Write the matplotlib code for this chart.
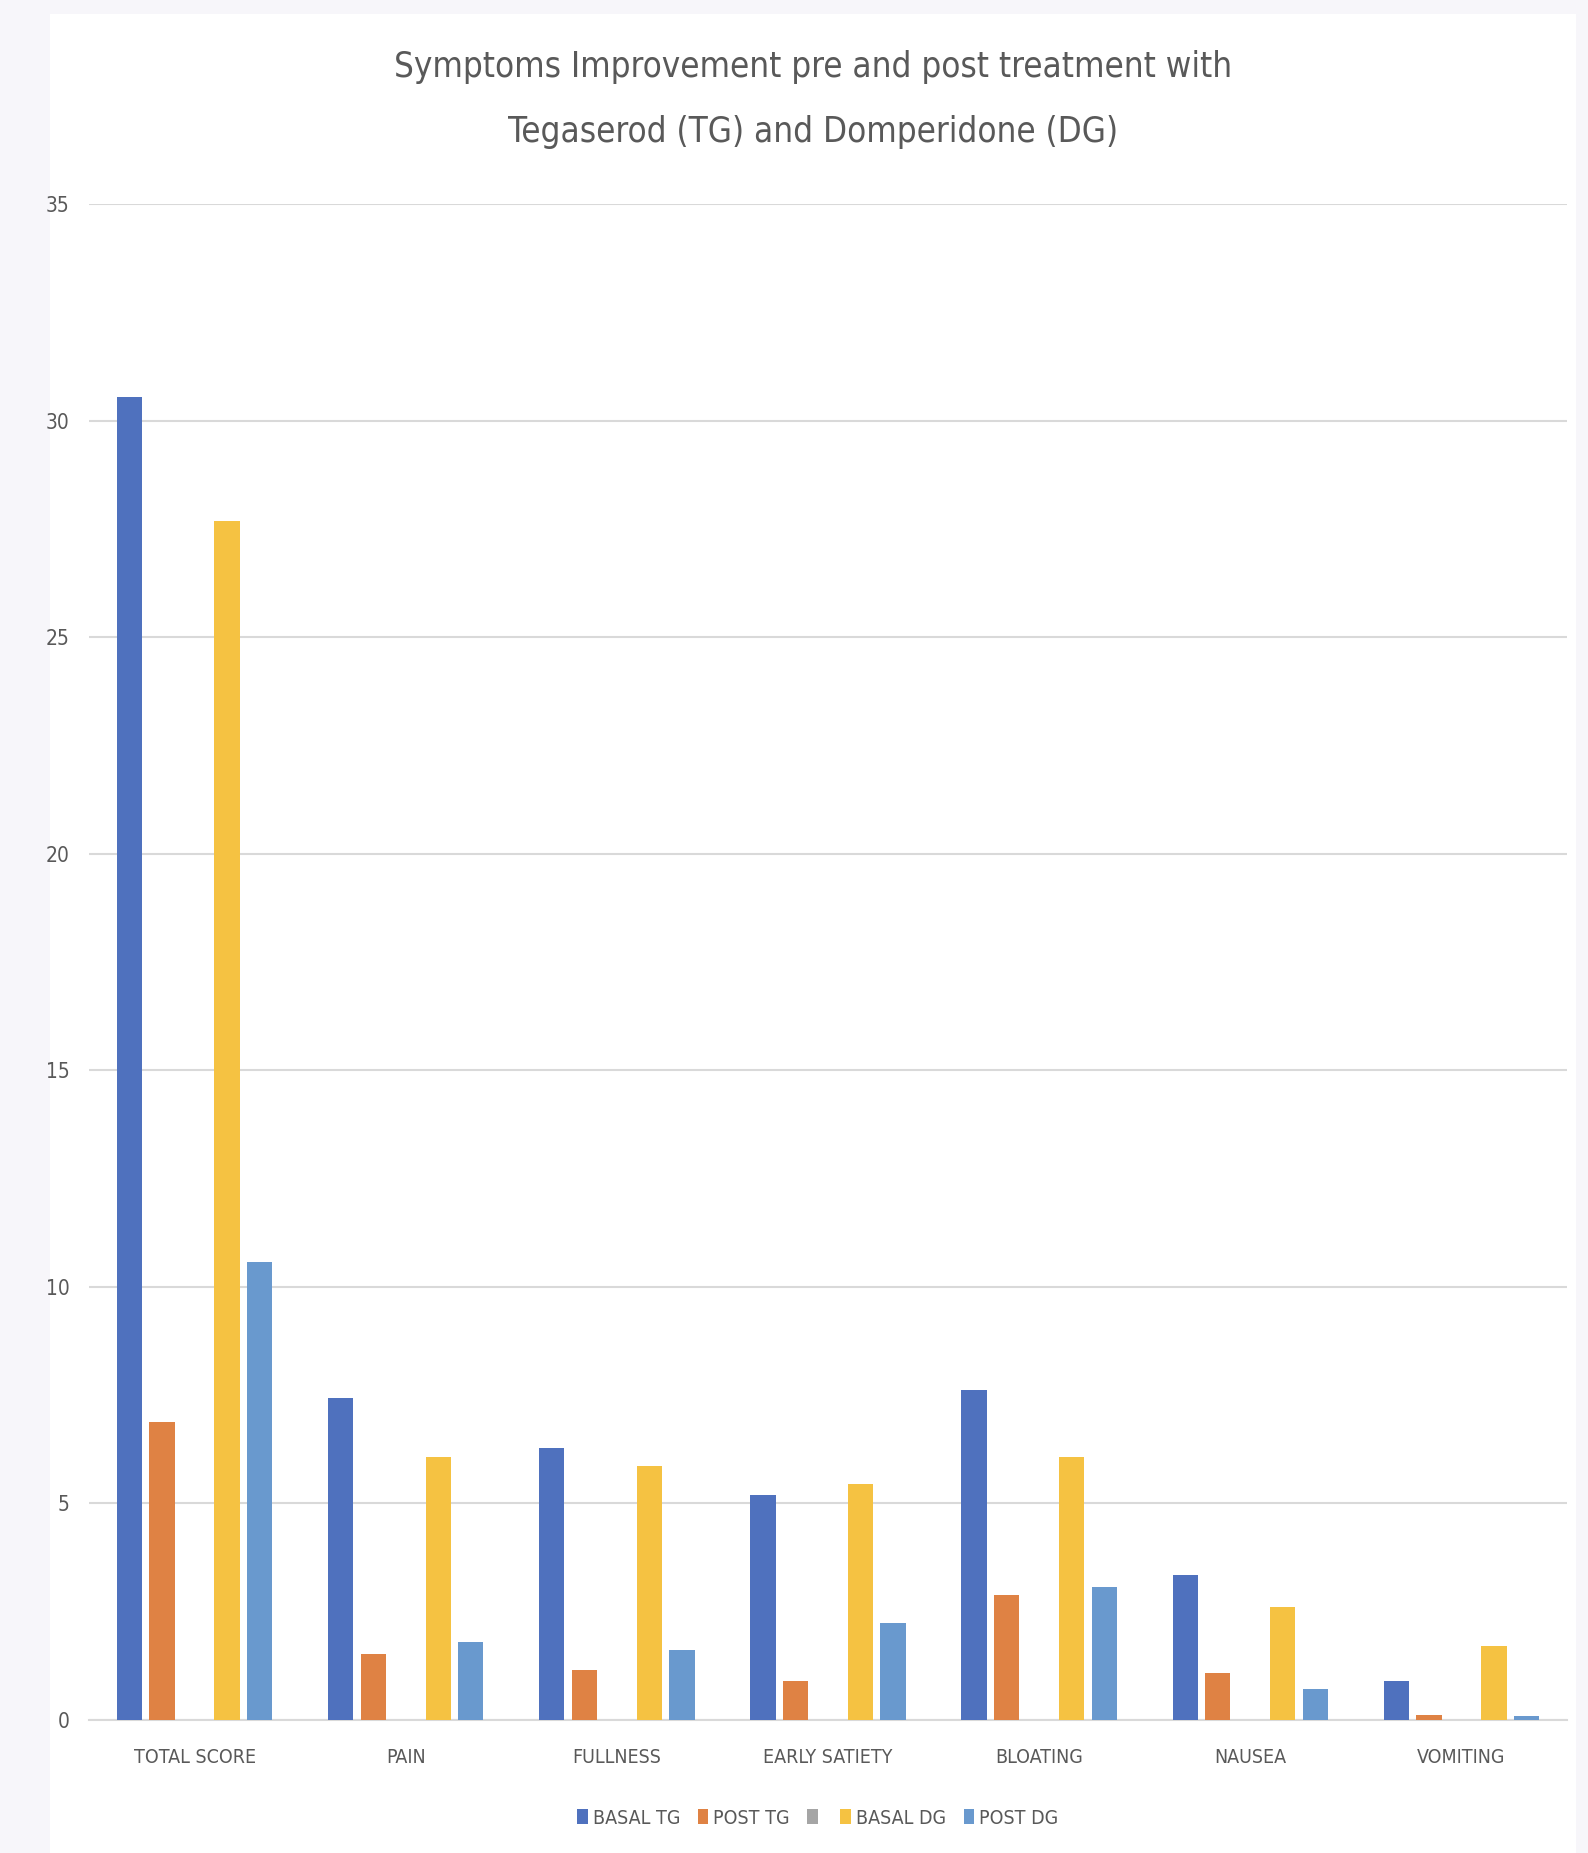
import numpy as np
import matplotlib.pyplot as plt
from matplotlib import font_manager
from matplotlib.patches import Patch, Rectangle

categories = ["TOTAL SCORE", "PAIN", "FULLNESS", "EARLY SATIETY",
              "BLOATING", "NAUSEA", "VOMITING"]
series_names = ["BASAL TG", "POST TG", "", "BASAL DG", "POST DG"]

basal_tg = [30.55, 7.44, 6.29, 5.19, 7.62, 3.35, 0.89]
post_tg = [6.89, 1.53, 1.15, 0.90, 2.89, 1.08, 0.12]
empty_series = [0, 0, 0, 0, 0, 0, 0]
basal_dg = [27.69, 6.08, 5.87, 5.45, 6.08, 2.60, 1.70]
post_dg = [10.58, 1.79, 1.62, 2.25, 3.07, 0.72, 0.09]

colors = ["#4F71BE", "#DF8244", "#A5A5A5", "#F5C242", "#6999CE"]

# look for a narrow / condensed face, the original uses a squeezed Calibri
narrow = None
for f in font_manager.fontManager.ttflist:
    cond = ("Narrow" in f.name or "Condensed" in f.name
            or str(f.stretch) in ("condensed", "semi-condensed", "extra-condensed"))
    if cond and f.style == "normal" and f.weight in (400, "normal", "regular", "book"):
        if narrow is None or "Liberation" in f.name:
            narrow = f
if narrow is not None:
    plt.rcParams["font.family"] = [narrow.name, "DejaVu Sans"]
    plt.rcParams["font.stretch"] = narrow.stretch
else:
    plt.rcParams["font.family"] = ["Liberation Sans", "DejaVu Sans"]

text_color = "#595959"
grid_color = "#D9D9D9"

fig = plt.figure(figsize=(15.88, 18.53), dpi=100)
fig.patch.set_facecolor("#F7F6FA")
fig.patches.append(Rectangle((50 / 1588, 0), (1576 - 50) / 1588, (1853 - 14) / 1853,
                             transform=fig.transFigure, facecolor="white",
                             edgecolor="none", zorder=-10))

ax = fig.add_axes([89 / 1588, 1 - 1720 / 1853, (1567 - 89) / 1588, (1720 - 204) / 1853])
ax.set_facecolor("none")

x = np.arange(len(categories))
slot = 0.154
width = 0.12
all_series = [basal_tg, post_tg, empty_series, basal_dg, post_dg]
for i, (vals, col) in enumerate(zip(all_series, colors)):
    ax.bar(x + (i - 2) * slot, vals, width=width, color=col, zorder=3)

ax.set_xlim(-0.5, len(categories) - 0.5)
ax.set_ylim(0, 35)
ax.set_yticks(np.arange(0, 36, 5))
ax.set_xticks(x)
ax.set_xticklabels(categories)

ax.grid(True, axis="y", color=grid_color, linewidth=1.5, zorder=0)
for s in ["top", "right", "left"]:
    ax.spines[s].set_visible(False)
ax.spines["bottom"].set_color(grid_color)
ax.spines["bottom"].set_linewidth(1.5)

ax.tick_params(axis="y", length=0, pad=14, labelsize=15, labelcolor=text_color)
ax.tick_params(axis="x", length=0, pad=20, labelsize=14, labelcolor=text_color)

fig.text(688 / 1344, 1 - 67 / 1853, "Symptoms Improvement pre and post treatment with",
         ha="center", va="center", fontsize=25, color=text_color)
fig.text(688 / 1344, 1 - 132 / 1853, "Tegaserod (TG) and Domperidone (DG)",
         ha="center", va="center", fontsize=25, color=text_color)

handles = [Patch(facecolor=c, edgecolor="none") for c in colors]
fig.legend(handles, series_names, loc="center", bbox_to_anchor=(0.515, 1 - 1818 / 1853),
           ncol=5, frameon=False, fontsize=14, handlelength=0.55, handleheight=0.8,
           handletextpad=0.25, columnspacing=0.9, labelcolor=text_color)

fig.savefig("out.png", dpi=100, facecolor=fig.get_facecolor())
